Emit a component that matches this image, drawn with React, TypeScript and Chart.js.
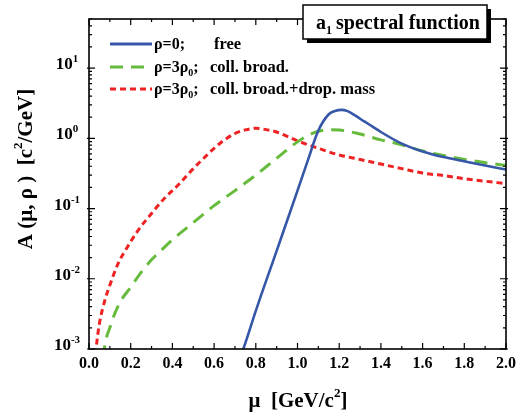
import React, { useEffect, useRef } from "react";
import { Chart, registerables } from "chart.js";
Chart.register(...registerables);

const blueMu = [0.72, 0.74, 0.8, 0.9, 1.0, 1.05, 1.1, 1.15, 1.18, 1.21, 1.24, 1.28, 1.32, 1.36, 1.4, 1.5, 1.6, 1.7, 1.8, 1.9, 2.0];
const blueA = [0.0007, 0.001, 0.0035, 0.025, 0.18, 0.49, 1.29, 2.2, 2.45, 2.54, 2.44, 2.08, 1.74, 1.47, 1.23, 0.84, 0.65, 0.54, 0.47, 0.41, 0.36];

const greenMu = [0.065, 0.073, 0.085, 0.1, 0.12, 0.15, 0.2, 0.25, 0.3, 0.35, 0.4, 0.5, 0.6, 0.7, 0.8, 0.9, 1.0, 1.05, 1.1, 1.15, 1.2, 1.3, 1.4, 1.5, 1.6, 1.7, 1.8, 1.9, 2.0];
const greenA = [0.00074, 0.001, 0.0015, 0.002, 0.003, 0.0047, 0.0076, 0.0123, 0.0186, 0.026, 0.036, 0.063, 0.11, 0.18, 0.3, 0.52, 0.89, 1.1, 1.26, 1.32, 1.31, 1.15, 0.95, 0.81, 0.66, 0.57, 0.5, 0.45, 0.41];

const redMu = [0.028, 0.034, 0.05, 0.075, 0.1, 0.14, 0.18, 0.24, 0.3, 0.36, 0.43, 0.5, 0.55, 0.6, 0.65, 0.7, 0.75, 0.8, 0.85, 0.9, 1.0, 1.1, 1.2, 1.3, 1.4, 1.5, 1.6, 1.7, 1.8, 1.9, 2.0];
const redA = [0.0006, 0.001, 0.0023, 0.0048, 0.0081, 0.0166, 0.027, 0.051, 0.085, 0.138, 0.22, 0.37, 0.52, 0.72, 0.95, 1.17, 1.32, 1.39, 1.33, 1.23, 0.92, 0.72, 0.58, 0.5, 0.43, 0.37, 0.32, 0.295, 0.266, 0.245, 0.226];

const xTickValues = [0, 0.2, 0.4, 0.6, 0.8, 1.0, 1.2, 1.4, 1.6, 1.8, 2.0];
const xTickLabels = ["0.0", "0.2", "0.4", "0.6", "0.8", "1.0", "1.2", "1.4", "1.6", "1.8", "2.0"];
const yTickValues = [0.001, 0.01, 0.1, 1, 10];
const yTickExps = ["-3", "-2", "-1", "0", "1"];

const seriesNames = ["ρ=0;", "ρ=3ρ₀;", "ρ=3ρ₀;"];
const seriesDescs = ["free", "coll. broad.", "coll. broad.+drop. mass"];
const colors = ["#3656a8", "#66bb3c", "#ee2222"];
const dashes = [[], [13, 8], [6, 4]];

const FONT = "'Liberation Serif', 'Times New Roman', serif";

function toPts(xs: number[], ys: number[]) {
  return xs.map((x, i) => ({ x, y: ys[i] }));
}

function drawRich(ctx: CanvasRenderingContext2D, s: string, x: number, y: number, size: number) {
  let cx = x;
  for (const ch of s) {
    if (ch === "₀") {
      ctx.font = `bold ${Math.round(size * 0.65)}px ${FONT}`;
      ctx.fillText("0", cx, y + size * 0.28);
      cx += ctx.measureText("0").width;
    } else {
      ctx.font = `bold ${size}px ${FONT}`;
      ctx.fillText(ch, cx, y);
      cx += ctx.measureText(ch).width;
    }
  }
  return cx;
}

const decorPlugin = {
  id: "decor",
  afterDraw(chart: any) {
    const ctx: CanvasRenderingContext2D = chart.ctx;
    const { left, right, top, bottom } = chart.chartArea;
    const xs = chart.scales.x;
    const ys = chart.scales.y;
    ctx.save();
    ctx.strokeStyle = "#000";
    ctx.fillStyle = "#000";
    ctx.lineWidth = 1.6;
    ctx.strokeRect(left, top, right - left, bottom - top);
    ctx.lineWidth = 1.2;
    for (let i = 0; i <= 20; i++) {
      const v = i * 0.1;
      const px = xs.getPixelForValue(v);
      const len = i % 2 === 0 ? 6 : 3;
      ctx.beginPath();
      ctx.moveTo(px, bottom);
      ctx.lineTo(px, bottom - len);
      ctx.moveTo(px, top);
      ctx.lineTo(px, top + len);
      ctx.stroke();
    }
    for (let d = -3; d <= 1; d++) {
      for (let m = 1; m <= 9; m++) {
        const v = m * Math.pow(10, d);
        if (v > 50) continue;
        const py = ys.getPixelForValue(v);
        const len = m === 1 ? 6 : 3;
        ctx.beginPath();
        ctx.moveTo(left, py);
        ctx.lineTo(left + len, py);
        ctx.moveTo(right, py);
        ctx.lineTo(right - len, py);
        if (m === 1) {
          ctx.moveTo(left, py);
          ctx.lineTo(left - 2, py);
          ctx.moveTo(right, py);
          ctx.lineTo(right + 2, py);
        }
        ctx.stroke();
      }
    }
    ctx.font = `bold 16px ${FONT}`;
    ctx.textAlign = "center";
    ctx.textBaseline = "middle";
    xTickValues.forEach((v, i) => {
      ctx.fillText(xTickLabels[i], xs.getPixelForValue(v), bottom + 15);
    });
    yTickValues.forEach((v, i) => {
      const py = ys.getPixelForValue(v);
      ctx.font = `bold 11px ${FONT}`;
      const ew = ctx.measureText(yTickExps[i]).width;
      ctx.font = `bold 17px ${FONT}`;
      const bw = ctx.measureText("10").width;
      const x0 = 67 - (bw + ew) / 2;
      ctx.textAlign = "left";
      ctx.textBaseline = "alphabetic";
      ctx.fillText("10", x0, py + 1);
      ctx.font = `bold 11px ${FONT}`;
      ctx.fillText(yTickExps[i], x0 + bw, py - 6);
    });
    ctx.textAlign = "left";
    ctx.textBaseline = "alphabetic";
    {
      const size = 21;
      ctx.font = `bold ${size}px ${FONT}`;
      const a = "μ  [GeV/c";
      const b = "]";
      const wa = ctx.measureText(a).width;
      const wb = ctx.measureText(b).width;
      ctx.font = `bold 13px ${FONT}`;
      const ws = ctx.measureText("2").width;
      const total = wa + ws + wb;
      const x0 = 298 - total / 2;
      const by = 407;
      ctx.font = `bold ${size}px ${FONT}`;
      ctx.fillText(a, x0, by);
      ctx.font = `bold 13px ${FONT}`;
      ctx.fillText("2", x0 + wa, by - 10);
      ctx.font = `bold ${size}px ${FONT}`;
      ctx.fillText(b, x0 + wa + ws, by);
    }
    {
      ctx.save();
      ctx.translate(32, 169);
      ctx.rotate(-Math.PI / 2);
      const size = 21;
      ctx.font = `bold ${size}px ${FONT}`;
      const a = "A (μ, ρ )  [c";
      const b = "/GeV]";
      const wa = ctx.measureText(a).width;
      const wb = ctx.measureText(b).width;
      ctx.font = `bold 13px ${FONT}`;
      const ws = ctx.measureText("2").width;
      const total = wa + ws + wb;
      const x0 = -total / 2;
      ctx.font = `bold ${size}px ${FONT}`;
      ctx.fillText(a, x0, 0);
      ctx.font = `bold 13px ${FONT}`;
      ctx.fillText("2", x0 + wa, -10);
      ctx.font = `bold ${size}px ${FONT}`;
      ctx.fillText(b, x0 + wa + ws, 0);
      ctx.restore();
    }
    const rowsY = [44, 67, 89];
    for (let i = 0; i < 3; i++) {
      const y = rowsY[i];
      ctx.save();
      ctx.strokeStyle = colors[i];
      ctx.lineWidth = 3;
      ctx.setLineDash(dashes[i]);
      ctx.beginPath();
      ctx.moveTo(110, y);
      ctx.lineTo(152, y);
      ctx.stroke();
      ctx.restore();
      ctx.fillStyle = "#000";
      ctx.textAlign = "left";
      ctx.textBaseline = "alphabetic";
      drawRich(ctx, seriesNames[i], 154, y + 5, 16);
      ctx.font = `bold 16.5px ${FONT}`;
      ctx.fillText(seriesDescs[i], i === 0 ? 214 : 210, y + 5);
    }
    {
      const bx = 303, by = 5, bw = 184, bh = 34;
      ctx.fillStyle = "#000";
      ctx.fillRect(bx + 4, by + 4, bw, bh);
      ctx.fillStyle = "#fff";
      ctx.fillRect(bx, by, bw, bh);
      ctx.lineWidth = 1.5;
      ctx.strokeStyle = "#000";
      ctx.strokeRect(bx, by, bw, bh);
      ctx.fillStyle = "#000";
      ctx.textAlign = "left";
      ctx.textBaseline = "alphabetic";
      ctx.font = `bold 20px ${FONT}`;
      let cx = 316;
      const ty = 29;
      ctx.fillText("a", cx, ty);
      cx += ctx.measureText("a").width;
      ctx.font = `bold 12px ${FONT}`;
      ctx.fillText("1", cx, ty + 5);
      cx += ctx.measureText("1").width + 4;
      ctx.font = `bold 20px ${FONT}`;
      ctx.fillText("spectral function", cx, ty);
    }
    ctx.restore();
  },
};

export default function App() {
  const ref = useRef<HTMLCanvasElement>(null);
  useEffect(() => {
    const canvas = ref.current!;
    const mk = (i: number, xs: number[], ys: number[]) => ({
      label: seriesDescs[i],
      data: toPts(xs, ys),
      borderColor: colors[i],
      backgroundColor: colors[i],
      borderWidth: i === 0 ? 2.6 : 3,
      borderDash: dashes[i],
      pointRadius: 0,
      fill: false,
      cubicInterpolationMode: "monotone" as const,
    });
    const chart = new Chart(canvas, {
      type: "line",
      data: {
        datasets: [mk(0, blueMu, blueA), mk(1, greenMu, greenA), mk(2, redMu, redA)],
      },
      options: {
        animation: false,
        responsive: false,
        maintainAspectRatio: false,
        layout: { padding: { left: 89, top: 19, right: 20, bottom: 69 } },
        plugins: { legend: { display: false }, tooltip: { enabled: false }, title: { display: false } },
        scales: {
          x: {
            type: "linear",
            min: 0,
            max: 2,
            grid: { display: false },
            border: { display: false },
            ticks: { display: false },
            afterFit: (s: any) => { s.height = 0; },
          },
          y: {
            type: "logarithmic",
            min: 0.001,
            max: 50,
            grid: { display: false },
            border: { display: false },
            ticks: { display: false },
            afterFit: (s: any) => { s.width = 0; },
          },
        },
      },
      plugins: [decorPlugin],
    });
    return () => chart.destroy();
  }, []);
  return (
    <div style={{ position: "fixed", left: 0, top: 0, width: 526, height: 418, background: "#fff" }}>
      <canvas ref={ref} width={526} height={418} style={{ width: 526, height: 418, display: "block" }} />
    </div>
  );
}
